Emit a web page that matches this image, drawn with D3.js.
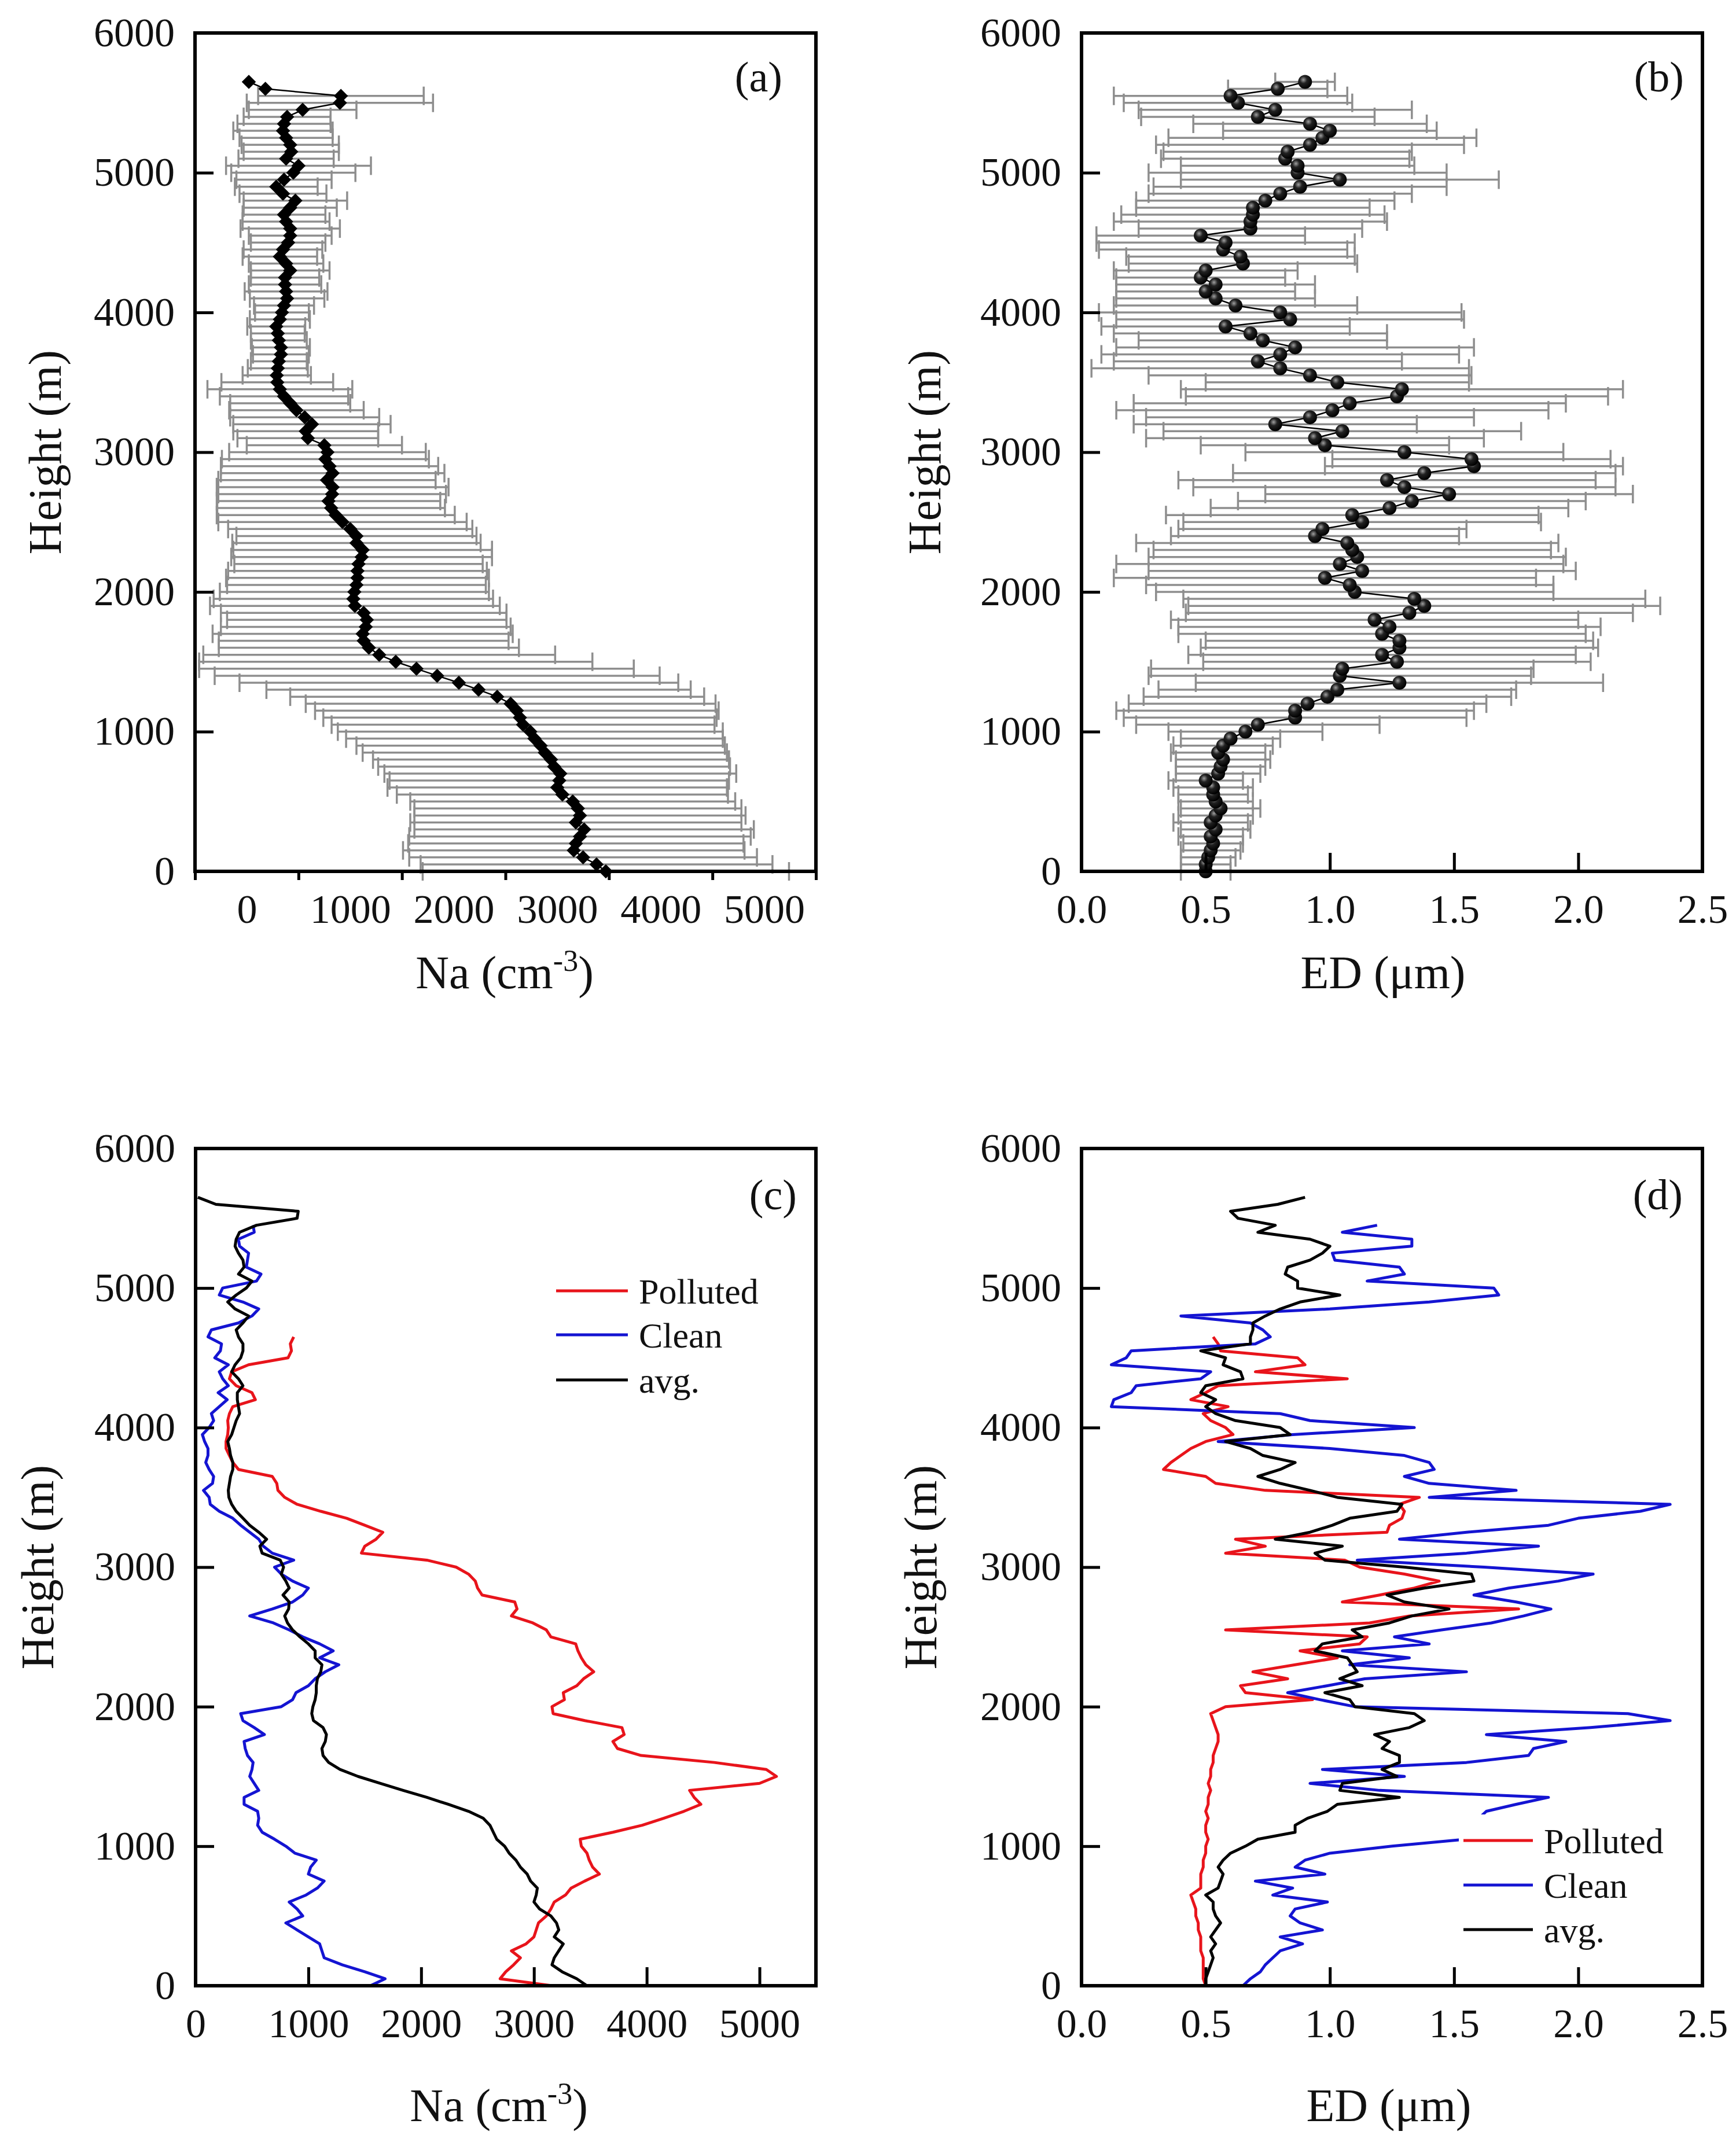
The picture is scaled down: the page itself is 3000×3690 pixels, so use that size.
<!DOCTYPE html>
<html>
<head>
<meta charset="utf-8">
<script src="https://cdn.jsdelivr.net/npm/d3@7"></script>
<style>
body { margin: 0; background: #fff; }
text { font-family: "Liberation Serif", "Times New Roman", serif; fill: #111; }
</style>
</head>
<body>
<script>

// height of every 50 m bin (m)
var heights = [0,50,100,150,200,250,300,350,400,450,500,550,600,650,700,750,800,850,900,950,
  1000,1050,1100,1150,1200,1250,1300,1350,1400,1450,1500,1550,1600,1650,1700,1750,1800,1850,1900,1950,
  2000,2050,2100,2150,2200,2250,2300,2350,2400,2450,2500,2550,2600,2650,2700,2750,2800,2850,2900,2950,
  3000,3050,3100,3150,3200,3250,3300,3350,3400,3450,3500,3550,3600,3650,3700,3750,3800,3850,3900,3950,
  4000,4050,4100,4150,4200,4250,4300,4350,4400,4450,4500,4550,4600,4650,4700,4750,4800,4850,4900,4950,
  5000,5050,5100,5150,5200,5250,5300,5350,5400,5450,5500,5550,5600,5650]

// mean number concentration (cm-3), panels a and c
var naMean = [3470,3380,3250,3160,3180,3220,3260,3180,3220,3200,3150,3050,3000,3020,3030,2970,2940,2880,2840,2780,
  2740,2670,2640,2610,2550,2420,2240,2050,1840,1640,1440,1280,1180,1130,1120,1150,1160,1130,1045,1030,
  1040,1060,1070,1070,1080,1110,1120,1060,1060,1000,925,860,815,790,825,830,775,830,800,760,
  780,750,590,570,630,560,480,420,360,320,295,290,300,310,330,330,310,300,285,320,
  340,360,390,380,370,370,420,380,320,350,400,420,420,380,360,420,470,350,285,360,
  450,500,380,430,420,380,350,360,390,540,900,910,180,20]

// standard deviation of the concentration (cm-3), panel a
var naStd = [1770,1700,1680,1650,1620,1650,1640,1600,1600,1580,1570,1600,1640,1640,1700,1700,1720,1760,1780,1820,
  1860,1850,1900,1950,1980,2000,2050,2120,2150,2100,1900,1700,1450,1400,1450,1400,1350,1380,1400,1350,
  1300,1250,1270,1250,1200,1260,1250,1200,1160,1180,1200,1150,1100,1080,1100,1120,1050,1080,1050,1000,
  950,750,680,700,760,720,650,580,620,700,540,330,290,270,270,280,270,260,280,290,
  260,290,360,400,350,330,380,360,360,380,360,400,480,420,400,450,500,420,400,460,
  600,700,460,460,470,450,480,450,420,520,900,800,0,0]

// mean effective diameter (um), panels b and d
var edMean = [0.50,0.50,0.51,0.52,0.53,0.52,0.54,0.52,0.54,0.56,0.54,0.53,0.53,0.50,0.55,0.56,0.57,0.55,0.57,0.60,
  0.66,0.71,0.86,0.86,0.91,0.99,1.03,1.28,1.04,1.05,1.27,1.21,1.28,1.28,1.21,1.24,1.18,1.32,1.38,1.34,
  1.10,1.08,0.98,1.13,1.04,1.11,1.09,1.07,0.94,0.97,1.13,1.09,1.24,1.33,1.48,1.30,1.23,1.38,1.58,1.57,
  1.30,0.98,0.94,1.05,0.78,0.92,1.01,1.08,1.27,1.29,1.03,0.92,0.80,0.71,0.80,0.86,0.73,0.68,0.58,0.84,
  0.80,0.62,0.54,0.50,0.54,0.48,0.50,0.65,0.64,0.57,0.58,0.48,0.68,0.68,0.69,0.69,0.74,0.80,0.88,1.04,
  0.87,0.87,0.82,0.83,0.92,0.97,1.00,0.92,0.71,0.78,0.63,0.60,0.79,0.90]

// standard deviation of the effective diameter (um), panel b
var edStd = [0.10,0.10,0.11,0.12,0.12,0.13,0.14,0.15,0.15,0.16,0.15,0.14,0.16,0.15,0.17,0.18,0.19,0.19,0.20,0.20,
  0.31,0.49,0.69,0.72,0.72,0.74,0.72,0.82,0.77,0.77,0.78,0.78,0.80,0.78,0.82,0.85,0.82,0.90,0.95,0.93,
  0.80,0.82,0.85,0.86,0.90,0.84,0.80,0.85,0.58,0.58,0.72,0.75,0.72,0.70,0.74,0.85,0.84,0.77,0.60,0.56,
  0.64,0.50,0.68,0.72,0.57,0.66,0.87,0.87,0.85,0.89,0.53,0.65,0.76,0.58,0.72,0.72,0.50,0.55,0.50,0.70,
  0.73,0.49,0.40,0.36,0.40,0.34,0.37,0.46,0.46,0.50,0.52,0.42,0.45,0.55,0.53,0.47,0.52,0.53,0.59,0.64,
  0.60,0.47,0.50,0.50,0.62,0.62,0.43,0.47,0.47,0.55,0.46,0.47,0.20,0.12]

// polluted and clean profiles (from 0 m upwards, same 50 m bins)
var naPolluted = [3160,2700,2750,2820,2880,2800,2930,3000,3020,3040,3110,3150,3180,3280,3330,3450,3580,3520,3490,3470,
  3420,3410,3700,3960,4150,4330,4480,4420,4380,5000,5150,5060,4600,3950,3740,3700,3800,3780,3450,3170,
  3160,3270,3260,3380,3440,3530,3460,3420,3390,3370,3150,3110,2990,2800,2850,2830,2540,2500,2480,2420,
  2310,2050,1470,1500,1600,1660,1500,1340,1110,900,790,730,720,680,380,330,300,270,270,285,
  290,285,300,330,530,500,360,300,320,470,820,850,840,870]

var naClean = [1550,1680,1500,1300,1140,1120,1100,1000,900,800,950,900,830,980,1080,1140,1000,1020,1070,880,
  800,700,590,550,560,550,430,430,560,520,480,500,510,460,440,430,610,520,420,400,
  760,860,890,1000,1060,1150,1270,1100,1220,1100,950,830,690,480,680,860,950,1000,860,760,
  700,870,680,600,560,480,400,330,210,130,120,70,150,160,120,90,110,110,80,60,
  120,160,140,210,280,200,290,240,210,290,170,220,230,110,140,380,500,560,420,210,
  240,540,580,450,460,470,390,380,520,510]

var edPolluted = [0.50,0.49,0.49,0.49,0.49,0.48,0.48,0.48,0.47,0.47,0.46,0.46,0.45,0.44,0.48,0.48,0.48,0.49,0.49,0.50,
  0.50,0.51,0.50,0.50,0.51,0.50,0.51,0.51,0.52,0.51,0.52,0.52,0.53,0.53,0.54,0.55,0.55,0.54,0.53,0.52,
  0.58,0.93,0.66,0.64,0.83,0.69,0.86,1.03,0.88,1.12,1.15,0.58,1.16,1.32,1.76,1.05,1.20,1.34,1.44,1.30,
  1.12,1.06,0.58,0.74,0.62,1.23,1.24,1.29,1.30,1.28,1.36,0.74,0.54,0.50,0.33,0.36,0.40,0.44,0.50,0.61,
  0.58,0.52,0.49,0.59,0.44,0.50,0.55,1.07,0.70,0.90,0.87,0.56,0.55,0.53]

var edClean = [0.65,0.68,0.72,0.74,0.77,0.80,0.89,0.80,0.97,0.88,0.84,0.86,0.99,0.77,0.85,0.70,0.98,0.86,0.90,1.00,
  1.25,1.55,1.60,1.62,1.60,1.63,1.75,1.88,1.20,0.92,1.30,0.97,1.55,1.80,1.82,1.95,1.63,2.05,2.37,2.20,
  1.10,0.96,0.83,0.99,1.14,1.55,1.08,1.32,1.05,1.40,1.26,1.45,1.65,1.78,1.89,1.75,1.58,1.72,1.92,2.06,
  1.62,1.11,1.55,1.84,1.28,1.55,1.88,2.00,2.25,2.37,1.40,1.75,1.40,1.30,1.42,1.40,1.30,1.00,0.55,0.85,
  1.34,0.92,0.80,0.12,0.13,0.20,0.22,0.48,0.52,0.12,0.18,0.20,0.70,0.76,0.73,0.68,0.40,1.00,1.40,1.68,
  1.66,1.15,1.30,1.28,1.02,1.01,1.33,1.33,1.05,1.19]

// tick values
var heightTicks = [0,1000,2000,3000,4000,5000,6000]
var naTicks = [0,1000,2000,3000,4000,5000]
var naShiftedMarks = [-500,500,1500,2500,3500,4500,5500]
var edTicks = [0,0.5,1,1.5,2,2.5]

var legendNames = ["Polluted", "Clean", "avg."]
var legendColors = ["#e8141b", "#1414d2", "#000000"]

var serif = '"Liberation Serif", "Times New Roman", serif'

var svg = d3.select("body").append("svg").attr("width", 3000).attr("height", 3690)
svg.append("rect").attr("width", 3000).attr("height", 3690).attr("fill", "#fff")

// shaded ball for the markers in (b)
var grad = svg.append("defs").append("radialGradient").attr("id", "ball")
  .attr("cx", "38%").attr("cy", "35%").attr("r", "65%")
grad.append("stop").attr("offset", "0%").attr("stop-color", "#a0a0a0")
grad.append("stop").attr("offset", "40%").attr("stop-color", "#222")
grad.append("stop").attr("offset", "100%").attr("stop-color", "#000")

drawAll()

function drawAll()
{
  // (a) concentration with error bars
  var a = frame({left: 337, right: 1410, top: 57, bottom: 1506}, [-500, 5500])
  errorBars(a, naMean, naStd)
  meanLine(a, naMean)
  a.g.append("g").selectAll("path").data(series(naMean)).join("path")
    .attr("d", d3.symbol(d3.symbolSquare, 300))
    .attr("transform", function(d) { return "translate(" + a.x(d.v) + "," + a.y(d.h) + ") rotate(45)" })
    .attr("fill", "#000")
  axes(a, "na-shifted")
  titles(a, "Na", 872, 1680, 77, "(a)", 1352, 158)

  // (b) effective diameter with error bars
  var b = frame({left: 1869, right: 2942, top: 57, bottom: 1506}, [0, 2.5])
  errorBars(b, edMean, edStd)
  meanLine(b, edMean)
  b.g.append("g").selectAll("circle").data(series(edMean)).join("circle")
    .attr("cx", function(d) { return b.x(d.v) })
    .attr("cy", function(d) { return b.y(d.h) })
    .attr("r", 12)
    .attr("fill", "url(#ball)")
  axes(b, "ed")
  titles(b, "ED", 2390, 1680, 1597, "(b)", 2910, 158)

  // (c) polluted / clean / average concentration
  var c = frame({left: 338, right: 1410, top: 1985, bottom: 3432}, [0, 5500])
  profile(c, naPolluted, legendColors[0])
  profile(c, naClean, legendColors[1])
  profile(c, naMean, legendColors[2])
  legend(c, 961, 1085, [2231, 2307, 2385], false)
  axes(c, "na")
  titles(c, "Na", 862, 3638, 64, "(c)", 1377, 2090)

  // (d) polluted / clean / average diameter
  var d = frame({left: 1869, right: 2942, top: 1985, bottom: 3432}, [0, 2.5])
  profile(d, edPolluted, legendColors[0])
  profile(d, edClean, legendColors[1])
  profile(d, edMean, legendColors[2])
  // legend box hides the clean line behind it, so it goes under the frame
  legend(d, 2529, 2649, [3181, 3258, 3335], true)
  axes(d, "ed")
  titles(d, "ED", 2400, 3638, 1590, "(d)", 2908, 2090)
}

// scales and group of one panel
function frame(box, xDomain)
{
  var g = svg.append("g")
  var x = d3.scaleLinear().domain(xDomain).range([box.left, box.right])
  var y = d3.scaleLinear().domain([0, 6000]).range([box.bottom, box.top])
  return {g: g, x: x, y: y, box: box}
}

// pair every value with its height
function series(values)
{
  return values.map(function(v, i) { return {h: heights[i], v: v} })
}

function errorBars(p, means, stds)
{
  var rows = series(means).map(function(d, i) { return {h: d.h, v: d.v, s: stds[i]} })
    .filter(function(d) { return d.s > 0 })
  var eg = p.g.append("g").attr("stroke", "#8e8e8e").attr("stroke-width", 3.5)
  eg.selectAll(".bar").data(rows).join("line").attr("class", "bar")
    .attr("x1", function(d) { return p.x(d.v - d.s) })
    .attr("x2", function(d) { return p.x(d.v + d.s) })
    .attr("y1", function(d) { return p.y(d.h) })
    .attr("y2", function(d) { return p.y(d.h) })
  eg.selectAll(".capl").data(rows).join("line").attr("class", "capl")
    .attr("x1", function(d) { return p.x(d.v - d.s) })
    .attr("x2", function(d) { return p.x(d.v - d.s) })
    .attr("y1", function(d) { return p.y(d.h) - 16 })
    .attr("y2", function(d) { return p.y(d.h) + 16 })
  eg.selectAll(".capr").data(rows).join("line").attr("class", "capr")
    .attr("x1", function(d) { return p.x(d.v + d.s) })
    .attr("x2", function(d) { return p.x(d.v + d.s) })
    .attr("y1", function(d) { return p.y(d.h) - 16 })
    .attr("y2", function(d) { return p.y(d.h) + 16 })
}

function meanLine(p, values)
{
  var line = d3.line().x(function(d) { return p.x(d.v) }).y(function(d) { return p.y(d.h) })
  p.g.append("path").datum(series(values)).attr("d", line)
    .attr("fill", "none").attr("stroke", "#000").attr("stroke-width", 2.5)
}

function profile(p, values, color)
{
  var line = d3.line().x(function(d) { return p.x(d.v) }).y(function(d) { return p.y(d.h) })
  p.g.append("path").datum(series(values)).attr("d", line)
    .attr("fill", "none").attr("stroke", color).attr("stroke-width", 5)
    .attr("stroke-linejoin", "round")
}

function styleAxis(g)
{
  g.select(".domain").remove()
  g.attr("font-family", serif).attr("font-size", 70)
  g.selectAll(".tick line").attr("stroke", "#000").attr("stroke-width", 5)
  g.selectAll(".tick text").attr("fill", "#111")
}

function axes(p, kind)
{
  var box = p.box

  // height axis, ticks pointing inwards
  p.g.append("g").attr("transform", "translate(" + box.left + ",0)")
    .call(d3.axisLeft(p.y).tickValues(heightTicks).tickSize(-32).tickPadding(35).tickFormat(d3.format("d")))
    .call(styleAxis)

  var bottom = p.g.append("g").attr("transform", "translate(0," + box.bottom + ")")
  if (kind === "na-shifted")
  {
    // in (a) the tick marks sit half a step off the labels
    bottom.append("g")
      .call(d3.axisBottom(p.x).tickValues(naShiftedMarks).tickSize(15).tickFormat(""))
      .call(styleAxis)
    bottom.append("g")
      .call(d3.axisBottom(p.x).tickValues(naTicks).tickSize(0).tickPadding(39).tickFormat(d3.format("d")))
      .call(styleAxis)
  }
  else if (kind === "na")
  {
    bottom.call(d3.axisBottom(p.x).tickValues(naTicks).tickSize(-32).tickPadding(39).tickFormat(d3.format("d")))
      .call(styleAxis)
  }
  else
  {
    bottom.call(d3.axisBottom(p.x).tickValues(edTicks).tickSize(-32).tickPadding(39).tickFormat(d3.format(".1f")))
      .call(styleAxis)
  }

  // frame
  p.g.append("rect")
    .attr("x", box.left).attr("y", box.top)
    .attr("width", box.right - box.left).attr("height", box.bottom - box.top)
    .attr("fill", "none").attr("stroke", "#000").attr("stroke-width", 6)
}

function titles(p, what, xTitleX, xTitleY, yTitleX, letter, letterX, letterY)
{
  var box = p.box
  var t = p.g.append("text").attr("x", xTitleX).attr("y", xTitleY).attr("dy", "0.35em")
    .attr("text-anchor", "middle").attr("font-size", 80)
  if (what === "Na")
  {
    t.append("tspan").text("Na (cm")
    t.append("tspan").attr("font-size", 52).attr("dy", -30).text("-3")
    t.append("tspan").attr("dy", 30).text(")")
  }
  else
  {
    t.text("ED (\u03bcm)")
  }

  var cy = (box.top + box.bottom) / 2
  p.g.append("text")
    .attr("transform", "translate(" + yTitleX + "," + cy + ") rotate(-90)")
    .attr("dy", "0.35em").attr("text-anchor", "middle").attr("font-size", 80)
    .text("Height (m)")

  p.g.append("text").attr("x", letterX).attr("y", letterY)
    .attr("text-anchor", "end").attr("font-size", 74).text(letter)
}

function legend(p, x1, x2, ys, withBackground)
{
  var lg = p.g.append("g")
  if (withBackground)
  {
    lg.append("rect").attr("x", x1 - 8).attr("y", ys[0] - 45)
      .attr("width", p.box.right - x1 + 8).attr("height", ys[2] - ys[0] + 90).attr("fill", "#fff")
  }
  var rows = lg.selectAll("g").data(legendNames).join("g")
  rows.append("line")
    .attr("x1", x1).attr("x2", x2)
    .attr("y1", function(d, i) { return ys[i] }).attr("y2", function(d, i) { return ys[i] })
    .attr("stroke", function(d, i) { return legendColors[i] }).attr("stroke-width", 5)
  rows.append("text")
    .attr("x", x2 + 19).attr("y", function(d, i) { return ys[i] }).attr("dy", "0.35em")
    .attr("font-size", 62).text(function(d) { return d })
}
</script>
</body>
</html>
